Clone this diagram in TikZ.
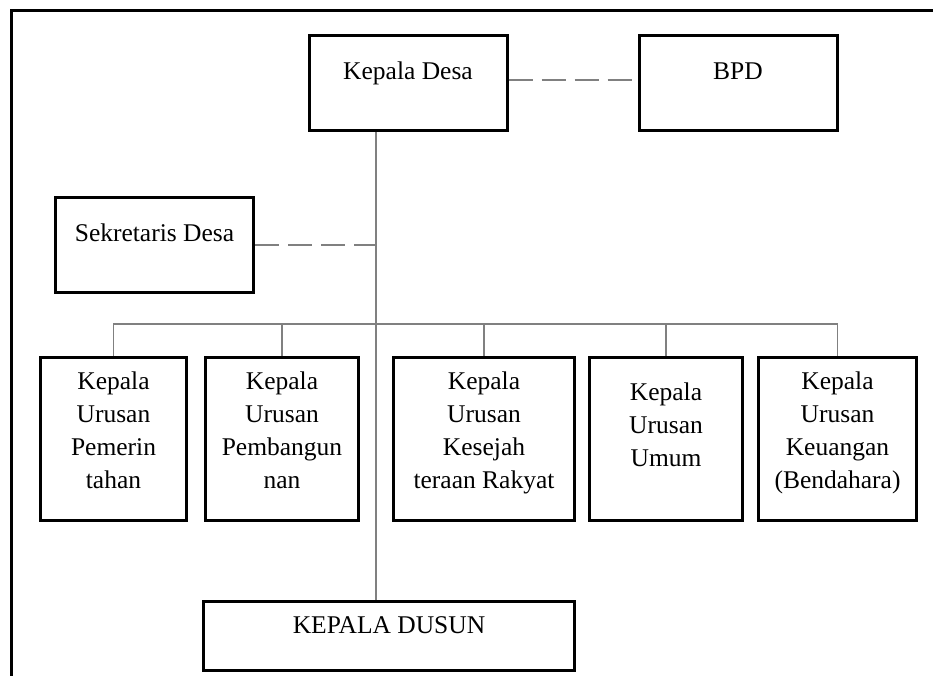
\documentclass[tikz,border=0pt]{standalone}
\usepackage{fontspec}
\setmainfont{Liberation Serif}
\usetikzlibrary{positioning}

\begin{document}
\begin{tikzpicture}[
x=1pt, y=-1pt, node distance=1cm,
unit/.style={draw, line width=3pt, align=center, inner sep=0pt, font=\fontsize{25.5}{33}\selectfont},
single/.style={unit, minimum width=198pt, minimum height=95pt, text height=18pt, text depth=26pt},
urusan/.style={unit, minimum height=163pt, text height=117pt, text depth=18pt},
link/.style={draw=gray, line width=1.6pt},
dashlink/.style={draw=gray, line width=2.4pt, dash pattern=on 24pt off 9pt}
]
\useasboundingbox (0,0) rectangle (933,675);
\draw[line width=3pt] (945,10) -- (11,10) -- (11,690);
\node[single] (kd) at (408,83) {Kepala Desa};
\node[single, right=129pt of kd] (bpd) {BPD};
\node[single] (sd) at (154.5,245) {Sekretaris Desa};
\node[urusan, minimum width=146pt] (ku1) at (113.5,439) {Kepala\\Urusan\\Pemerin\\tahan};
\node[urusan, minimum width=153pt, right=16pt of ku1] (ku2) {Kepala\\Urusan\\Pembangun\\nan};
\node[urusan, minimum width=181pt, right=32pt of ku2] (ku3) {Kepala\\Urusan\\Kesejah\\teraan Rakyat};
\node[urusan, minimum width=153pt, right=12pt of ku3, text height=84pt, text depth=30pt] (ku4) {Kepala\\Urusan\\Umum};
\node[urusan, minimum width=158pt, right=13pt of ku4] (ku5) {Kepala\\Urusan\\Keuangan\\(Bendahara)};
\node[single, minimum width=371pt, minimum height=69pt, text depth=24pt] (kdus) at (389,636) {KEPALA DUSUN};
\coordinate (bus) at (376,324);
\draw[link] (kd.south -| bus) -- (kdus.north -| bus);
\draw[link] (ku1.north) |- (bus) -| (ku5.north);
\foreach \n in {ku2,ku3,ku4}
  \draw[link] (\n.north) -- (\n.north |- bus);
\draw[dashlink] ([yshift=3pt]kd.east) -- ([yshift=3pt]kd.east -| bpd.west);
\draw[dashlink] (sd.east) -- (sd.east -| bus);
\end{tikzpicture}
\end{document}
